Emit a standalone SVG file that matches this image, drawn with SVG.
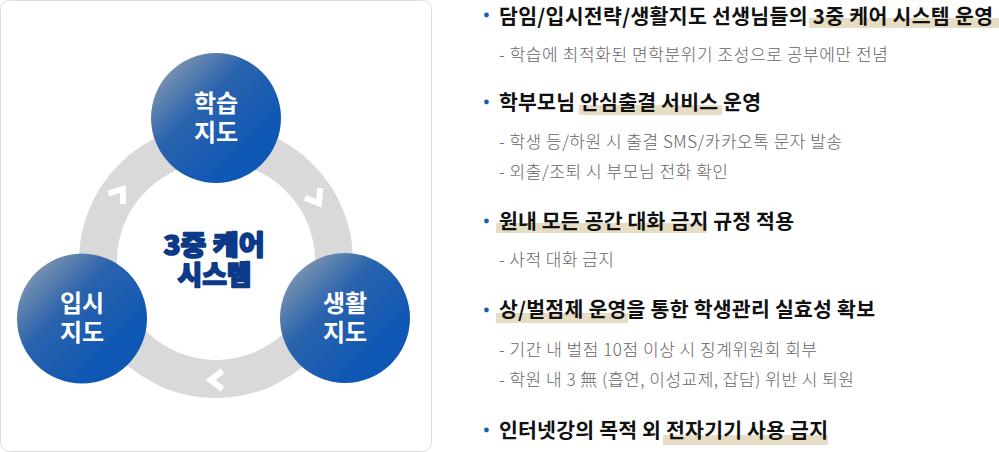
<svg xmlns="http://www.w3.org/2000/svg" width="999" height="452" viewBox="0 0 999 452">
  <defs>
    <linearGradient id="nodeGrad" x1="0.1" y1="0.1" x2="0.75" y2="0.75">
      <stop offset="0" stop-color="#8398b0"/>
      <stop offset="0.45" stop-color="#2a63ad"/>
      <stop offset="1" stop-color="#0f57b4"/>
    </linearGradient>
    <path id="chev" d="M 6.5,-9 L -5.5,0 L 6.5,9" fill="none" stroke="#ffffff" stroke-width="6" stroke-linejoin="miter" stroke-miterlimit="10"/>
  </defs>
  <style>
    .node { fill: url(#nodeGrad); }
    .nlabel { font-family: "Noto Sans CJK KR", "Noto Sans", sans-serif; font-size: 24px; font-weight: 700; fill: #ffffff; text-anchor: middle; }
    .center { font-family: "Noto Sans CJK KR", "Noto Sans", sans-serif; font-size: 27px; font-weight: 900; fill: #0c3a88; stroke: #0c3a88; stroke-width: 1.6; stroke-linejoin: round; paint-order: stroke; text-anchor: middle; }
    .head { font-family: "Noto Sans CJK KR", "Noto Sans", sans-serif; font-size: 20.5px; font-weight: 700; fill: #111111; }
    .sub { font-family: "Noto Sans CJK KR", "Noto Sans", sans-serif; font-size: 17px; font-weight: 300; fill: #666666; }
    .hl { fill: #e7ddc4; }
    .dot { fill: #1c5cb5; }
  </style>

  <rect x="0.5" y="0.5" width="431" height="451" rx="9" ry="9" fill="#ffffff" stroke="#dedede" stroke-width="1"/>

  <g id="connectors">
    <circle cx="216" cy="261" r="118" fill="none" stroke="#d9d9d9" stroke-width="38"/>
    <use href="#chev" transform="translate(119.5,193.5) rotate(125)"/>
    <use href="#chev" transform="translate(316,198.5) rotate(238)"/>
    <use href="#chev" transform="translate(216,380)"/>
  </g>

  <g id="node-center">
    <text class="center"><tspan x="214" y="255" textLength="101" lengthAdjust="spacingAndGlyphs">3중 케어</tspan><tspan x="214.5" y="285" textLength="74" lengthAdjust="spacingAndGlyphs">시스템</tspan></text>
  </g>

  <g id="node-study">
    <circle class="node" cx="216" cy="118" r="65"/>
    <text class="nlabel"><tspan x="216" y="112">학습</tspan><tspan x="216" y="141">지도</tspan></text>
  </g>

  <g id="node-admission">
    <circle class="node" cx="82" cy="318.5" r="65"/>
    <text class="nlabel"><tspan x="82" y="312">입시</tspan><tspan x="82" y="341">지도</tspan></text>
  </g>

  <g id="node-life">
    <circle class="node" cx="345" cy="318" r="65"/>
    <text class="nlabel"><tspan x="345" y="312">생활</tspan><tspan x="345" y="341">지도</tspan></text>
  </g>

  <g id="list">
    <rect class="hl" x="809" y="18" width="190" height="10"/>
    <rect class="hl" x="579" y="105" width="143" height="10"/>
    <rect class="hl" x="496" y="223" width="211" height="10"/>
    <rect class="hl" x="496" y="313" width="132" height="10"/>
    <rect class="hl" x="663" y="435" width="165" height="10"/>

    <circle class="dot" cx="486.5" cy="15" r="2.4"/>
    <circle class="dot" cx="486.5" cy="102" r="2.4"/>
    <circle class="dot" cx="486.5" cy="221" r="2.4"/>
    <circle class="dot" cx="486.5" cy="310" r="2.4"/>
    <circle class="dot" cx="486.5" cy="430" r="2.4"/>

    <text class="head" x="499" y="24" textLength="494" lengthAdjust="spacing">담임/입시전략/생활지도 선생님들의 3중 케어 시스템 운영</text>
    <text class="sub" x="499" y="60.5" textLength="389" lengthAdjust="spacing">- 학습에 최적화된 면학분위기 조성으로 공부에만 전념</text>

    <text class="head" x="499" y="110" textLength="262" lengthAdjust="spacing">학부모님 안심출결 서비스 운영</text>
    <text class="sub" x="499" y="147.5" textLength="343" lengthAdjust="spacing">- 학생 등/하원 시 출결 SMS/카카오톡 문자 발송</text>
    <text class="sub" x="499" y="177.5" textLength="229" lengthAdjust="spacing">- 외출/조퇴 시 부모님 전화 확인</text>

    <text class="head" x="499" y="229" textLength="295" lengthAdjust="spacing">원내 모든 공간 대화 금지 규정 적용</text>
    <text class="sub" x="499" y="266" textLength="115" lengthAdjust="spacing">- 사적 대화 금지</text>

    <text class="head" x="499" y="317" textLength="376" lengthAdjust="spacing">상/벌점제 운영을 통한 학생관리 실효성 확보</text>
    <text class="sub" x="499" y="356" textLength="318" lengthAdjust="spacing">- 기간 내 벌점 10점 이상 시 징계위원회 회부</text>
    <text class="sub" x="499" y="386" textLength="355" lengthAdjust="spacing">- 학원 내 3 無 (흡연, 이성교제, 잡담) 위반 시 퇴원</text>

    <text class="head" x="499" y="437.5" textLength="329" lengthAdjust="spacing">인터넷강의 목적 외 전자기기 사용 금지</text>
  </g>
</svg>
